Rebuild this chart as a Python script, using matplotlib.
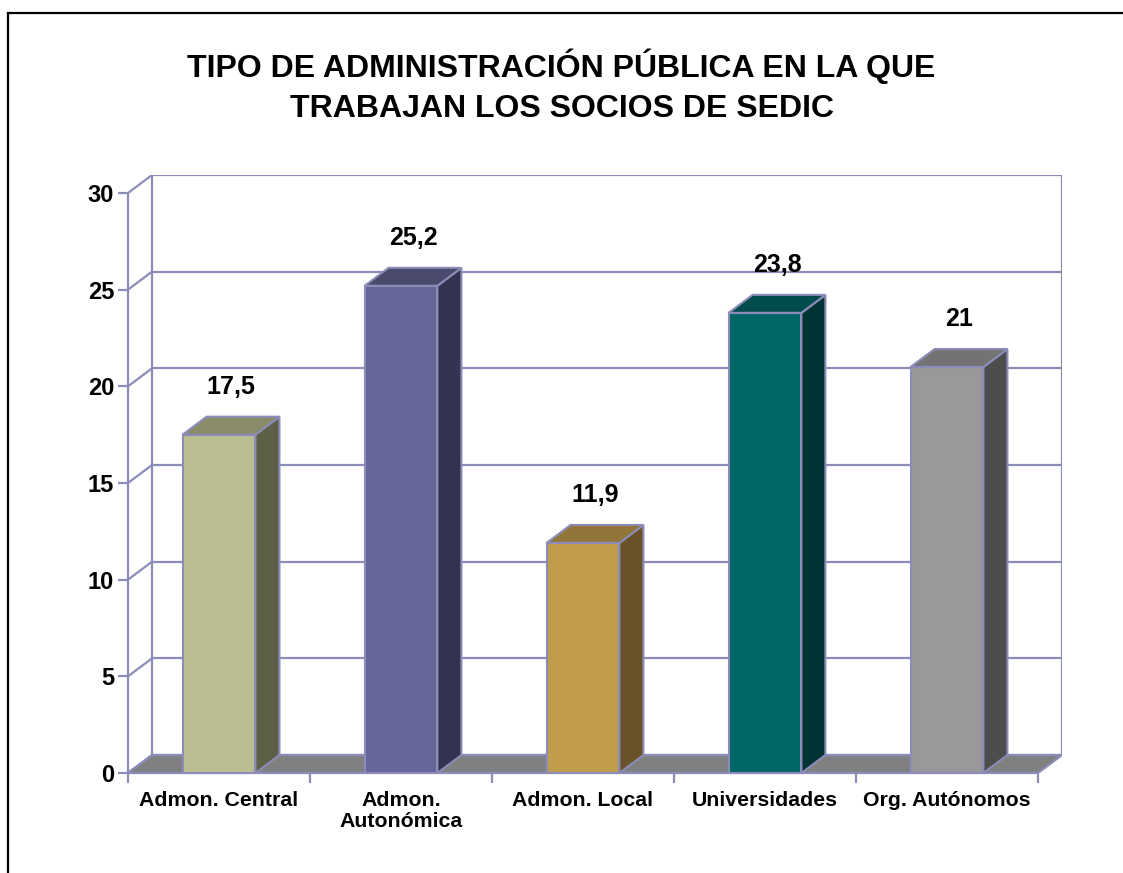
import matplotlib.pyplot as plt
from matplotlib.patches import Polygon, Rectangle
from matplotlib.lines import Line2D

plt.rcParams['font.family'] = ['Liberation Sans', 'DejaVu Sans']
plt.rcParams['font.weight'] = 'bold'

categories = ["Admon. Central", "Admon.\nAutonómica", "Admon. Local",
              "Universidades", "Org. Autónomos"]
values = [17.5, 25.2, 11.9, 23.8, 21]
front_colors = ["#BBBE91", "#676699", "#C19D4B", "#006666", "#999999"]
top_colors = ["#8A8B69", "#4A4A6F", "#927538", "#004C4C", "#737373"]
side_colors = ["#5E5F47", "#333350", "#6A5228", "#003333", "#4D4D4D"]
yticks = [0, 5, 10, 15, 20, 25, 30]

line_col = "#8C8CB8"
dx, dy = 0.132, 0.93   # depth of the 3d box in data units
bw = 0.4
n = len(categories)

fig = plt.figure(figsize=(11.23, 8.73), dpi=100)
ax = fig.add_axes([128 / 1123, 100 / 873, 934 / 1123, 598 / 873])
ax.set_xlim(0, n + dx)
ax.set_ylim(0, 30 + dy)
for s in ["top", "right"]:
    ax.spines[s].set_visible(False)
for s in ["left", "bottom"]:
    ax.spines[s].set_color(line_col)
    ax.spines[s].set_linewidth(1.6)
ax.spines["left"].set_bounds(0, 30)
ax.spines["bottom"].set_bounds(0, n)

# walls
ax.add_patch(Polygon([(0, 0), (n, 0), (n + dx, dy), (dx, dy)], closed=True,
                     facecolor="#808080", edgecolor=line_col, lw=1.6, zorder=1))
for v in yticks:
    ax.plot([dx, n + dx], [v + dy, v + dy], color=line_col, lw=1.6, zorder=1)
    ax.plot([0, dx], [v, v + dy], color=line_col, lw=1.6, zorder=1)
ax.plot([dx, dx], [dy, 30 + dy], color=line_col, lw=1.6, zorder=1)
ax.plot([n + dx, n + dx], [dy, 30 + dy], color=line_col, lw=1.6, zorder=1)

# bars
for i, v in enumerate(values):
    x0 = i + 0.5 - bw / 2
    x1 = x0 + bw
    ax.add_patch(Polygon([(x1, 0), (x1 + dx, dy), (x1 + dx, v + dy), (x1, v)],
                         closed=True, facecolor=side_colors[i],
                         edgecolor=line_col, lw=1.5, zorder=3))
    ax.add_patch(Polygon([(x0, v), (x1, v), (x1 + dx, v + dy), (x0 + dx, v + dy)],
                         closed=True, facecolor=top_colors[i],
                         edgecolor=line_col, lw=1.5, zorder=3))
    ax.add_patch(Rectangle((x0, 0), bw, v, facecolor=front_colors[i],
                           edgecolor=line_col, lw=1.5, zorder=4))
    ax.text(i + 0.5 + dx / 2, v + dy + 1.55, f"{v:g}".replace(".", ","),
            ha="center", va="center", fontsize=18, fontweight="bold", zorder=5)

ax.set_yticks(yticks)
ax.set_yticklabels([str(t) for t in yticks], fontsize=17, fontweight="bold")
ax.tick_params(axis="y", colors=line_col, labelcolor="black", length=7,
               width=1.6, pad=3)
ax.set_xticks(range(n + 1))
ax.set_xticklabels([])
ax.set_xticks([i + 0.5 for i in range(n)], minor=True)
ax.set_xticklabels(categories, minor=True, fontsize=15.3, fontweight="bold",
                   linespacing=1.1)
ax.tick_params(axis="x", which="major", colors=line_col, length=7, width=1.6)
ax.tick_params(axis="x", which="minor", length=0, pad=13, labelcolor="black")

fig.text(0.5, 1 - 86 / 873, "TIPO DE ADMINISTRACIÓN PÚBLICA EN LA QUE\nTRABAJAN LOS SOCIOS DE SEDIC",
         ha="center", va="center", fontsize=23, fontweight="bold", linespacing=1.42)

# outer frame (left and top only)
fig.add_artist(Line2D([8 / 1123, 8 / 1123], [0, 1 - 13 / 873], color="black", lw=1.6))
fig.add_artist(Line2D([8 / 1123, 1], [1 - 13 / 873, 1 - 13 / 873], color="black", lw=1.6))

fig.savefig("out.png", dpi=100)
